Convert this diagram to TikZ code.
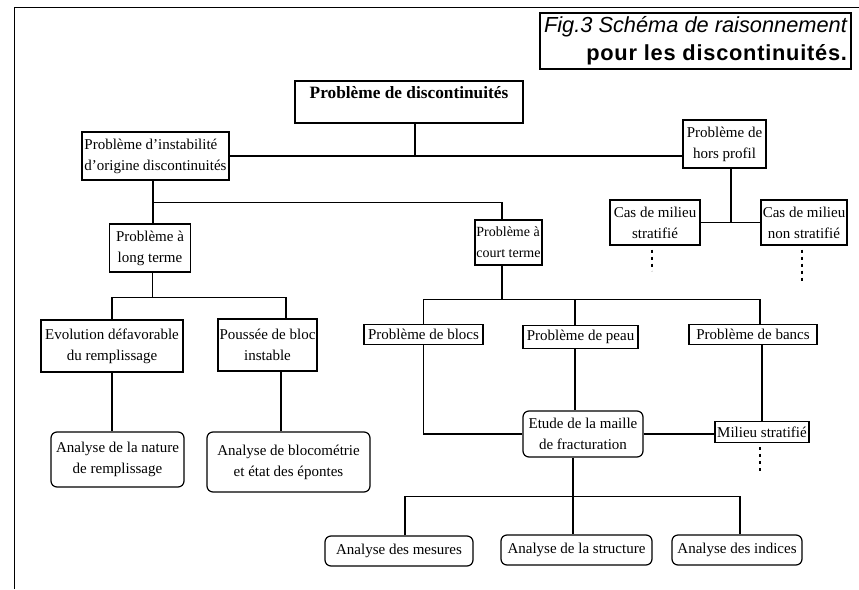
\documentclass[tikz,border=0pt]{standalone}
\usepackage{fontspec}
\setmainfont{Liberation Serif}
\setsansfont{Liberation Sans}
\usetikzlibrary{positioning}
\tikzset{boite/.style={draw,line width=1.2pt,align=center,inner xsep=1.5pt,inner ysep=5pt,font=\fontsize{15}{21}\selectfont}}
\tikzset{arrondi/.style={boite,rounded corners=6pt}}
\tikzset{lien/.style={line width=1.2pt}}
\tikzset{suite/.style={line width=1.2pt,dash pattern=on 3pt off 4pt,shorten <=4pt}}

\begin{document}
\begin{tikzpicture}[x=1pt,y=1pt,on grid]
        \useasboundingbox (0,0) rectangle (859,-589);
        \draw[line width=.8pt] (14,-589) -- (14,-7) -- (859,-7);
        \node(fig)[draw,line width=1.2pt,align=right,inner xsep=3pt,minimum width=311pt,minimum height=56pt,font=\sffamily\fontsize{21.8}{28}\selectfont] at (695.5,-41)
        {{\itshape Fig.3 Schéma de raisonnement}\\{\bfseries\addfontfeature{LetterSpace=3.5}pour les discontinuités.}};
        \node(disc)[boite,font=\bfseries\fontsize{17.3}{19}\selectfont,minimum width=228pt,text depth=20pt] at (409,-102) {Problème de discontinuités};
        \node(instab)[boite,align=left,minimum width=147pt,minimum height=48pt,below left=54pt and 253.5pt of disc]{Problème d'instabilité\\d'origine discontinuités};
        \node(hors)[boite,minimum width=83pt,minimum height=48pt,below right=42pt and 315.5pt of disc]{Problème de\\hors profil};
        \node(court)[boite,align=left,font=\fontsize{14}{21}\selectfont,minimum width=63pt,minimum height=45pt,below right=140.5pt and 99.5pt of disc]{Problème à\\court terme};
        \node(stratifie)[boite,minimum width=90pt,minimum height=45pt,below left=78.5pt and 69.5pt of hors]{Cas de milieu\\stratifié};
        \node(nonstrat)[boite,minimum width=86pt,minimum height=45pt,below right=78.5pt and 79.5pt of hors]{Cas de milieu\\non stratifié};
        \node(long)[boite,minimum width=81pt,minimum height=48pt,below left=92pt and 5.5pt of instab]{Problème à\\long terme};
        \node(evol)[boite,minimum width=142pt,minimum height=52pt,below left=98pt and 38pt of long]{Evolution défavorable\\du remplissage};
        \node(pouss)[boite,minimum width=79pt,minimum height=52pt,below right=97pt and 117.5pt of long]{Poussée de bloc\\instable};
        \node(nature)[arrondi,minimum width=133pt,minimum height=55pt,below right=113.5pt and 5.5pt of evol]{Analyse de la nature\\de remplissage};
        \node(bloco)[arrondi,minimum width=163pt,minimum height=60pt,below right=117pt and 21pt of pouss]{Analyse de blocométrie\\et état des épontes};
        \node(blocs)[boite,minimum width=119pt,below left=92pt and 85pt of court]{Problème de blocs};
        \node(peau)[boite,minimum width=115pt,below right=94.5pt and 72pt of court]{Problème de peau};
        \node(bancs)[boite,minimum width=128pt,below right=92pt and 244.5pt of court]{Problème de bancs};
        \node(etude)[arrondi,minimum width=120pt,minimum height=46pt,below right=97pt and 2.5pt of peau]{Etude de la maille\\de fracturation};
        \node(milieu)[boite,minimum width=94pt,below right=97.5pt and 9pt of bancs]{Milieu stratifié};
        \node(mesures)[arrondi,minimum width=148pt,minimum height=30pt,below left=117pt and 184pt of etude]{Analyse des mesures};
        \node(structure)[arrondi,minimum width=151pt,minimum height=30pt,below left=116pt and 6.5pt of etude]{Analyse de la structure};
        \node(indices)[arrondi,minimum width=130pt,minimum height=30pt,below right=116pt and 154pt of etude]{Analyse des indices};
        % fins pointillees
        \coordinate(fin_strat) at ([xshift=-3pt,yshift=-25pt]stratifie.south);
        \coordinate(fin_nonstrat) at ([xshift=-2pt,yshift=-35pt]nonstrat.south);
        \coordinate(fin_milieu) at ([xshift=-2pt,yshift=-30pt]milieu.south);
        % liens
        \draw[lien] ([xshift=6pt]disc.south) -- ([xshift=6pt]disc.south |- instab.east);
        \draw[lien] (instab.east) -- (instab.east -| hors.west);
        \draw[lien] ([xshift=-2.5pt]instab.south) -- ++(0,-22) -| ([xshift=-6.5pt]court.north);
        \draw[lien] ([xshift=-2.5pt]instab.south) -- ([xshift=-2.5pt]instab.south |- long.north);
        \draw[lien] ([xshift=6.5pt]hors.south) -- ([xshift=6.5pt]hors.south |- stratifie.east);
        \draw[lien] (stratifie.east) -- (nonstrat.west);
        \draw[lien] (evol.north) -- ++(0,22) coordinate(bus_long) -| ([xshift=18.5pt]pouss.north);
        \draw[lien] ([xshift=2.5pt]long.south) -- ([xshift=2.5pt]long.south |- bus_long);
        \draw[lien] (evol.south) -- (evol.south |- nature.north);
        \draw[lien] ([xshift=13.5pt]pouss.south) -- ([xshift=13.5pt]pouss.south |- bloco.north);
        \draw[lien] (blocs.north) -- ++(0,24) coordinate(bus_court) -| ([xshift=7pt]bancs.north);
        \draw[lien] ([xshift=-6.5pt]court.south) -- ([xshift=-6.5pt]court.south |- bus_court);
        \draw[lien] ([xshift=-5.5pt]peau.north) -- ([xshift=-5.5pt]peau.north |- bus_court);
        \draw[lien] (blocs.south) |- (etude.west);
        \draw[lien] ([xshift=-5.5pt]peau.south) -- ([xshift=-5.5pt]peau.south |- etude.north);
        \draw[lien] (etude.east) -- (etude.east -| milieu.west);
        \draw[lien] (milieu.north) -- (milieu.north |- bancs.south);
        \draw[lien] ([xshift=6pt]mesures.north) -- ++(0,39) coordinate(bus_etude) -| ([xshift=3pt]indices.north);
        \draw[lien] ([xshift=-10pt]etude.south) -- ([xshift=-10pt]etude.south |- structure.north);
        \draw[suite] ([xshift=-3pt]stratifie.south) -- (fin_strat);
        \draw[suite] ([xshift=-2pt]nonstrat.south) -- (fin_nonstrat);
        \draw[suite] ([xshift=-2pt]milieu.south) -- (fin_milieu);
      \end{tikzpicture}
\end{document}
